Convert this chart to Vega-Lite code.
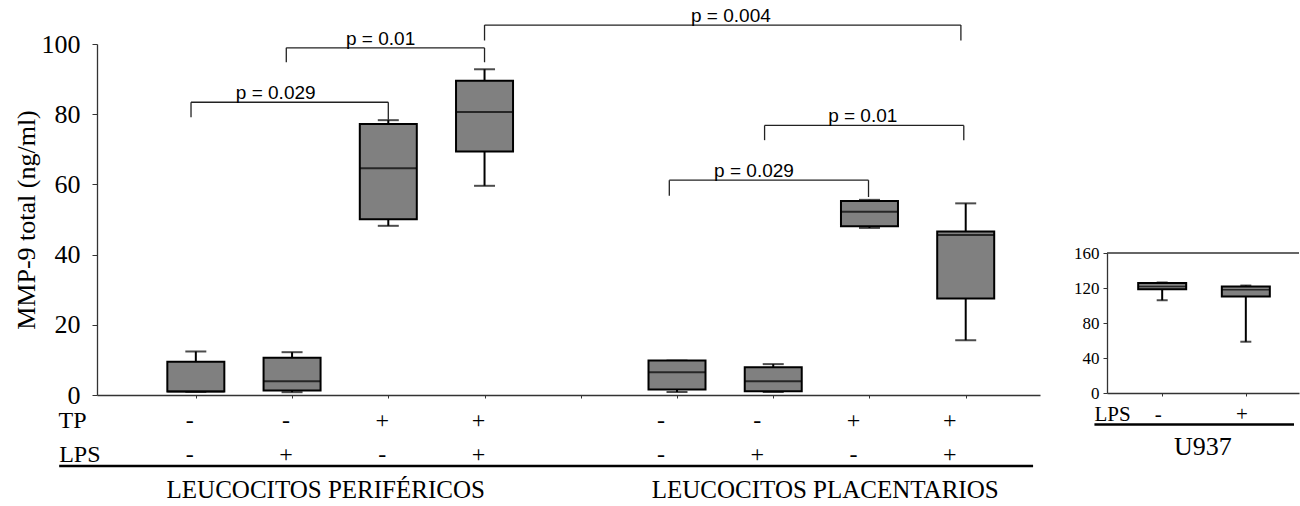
{
  "$schema": "https://vega.github.io/schema/vega-lite/v6.json",
  "background": "white",
  "padding": {"left": 13, "top": 7, "right": 0, "bottom": 0},
  "bounds": "flush",
  "spacing": 67,
  "config": {"view": {"stroke": null}, "axis": {"grid": false}},
  "datasets": {
    "boxes": [
      {"cond": 1, "g": 1, "TP": "-", "LPS": "-", "min": 0.9, "q1": 1.0, "median": 1.0, "q3": 9.5, "max": 12.4},
      {"cond": 2, "g": 1, "TP": "-", "LPS": "+", "min": 0.8, "q1": 1.3, "median": 3.9, "q3": 10.6, "max": 12.2},
      {"cond": 3, "g": 1, "TP": "+", "LPS": "-", "min": 48.2, "q1": 50.1, "median": 64.6, "q3": 77.2, "max": 78.3},
      {"cond": 4, "g": 1, "TP": "+", "LPS": "+", "min": 59.6, "q1": 69.4, "median": 80.6, "q3": 89.5, "max": 92.8},
      {"cond": 6, "g": 2, "TP": "-", "LPS": "-", "min": 0.85, "q1": 1.6, "median": 6.5, "q3": 9.8, "max": 9.8},
      {"cond": 7, "g": 2, "TP": "-", "LPS": "+", "min": 0.85, "q1": 1.1, "median": 3.9, "q3": 7.9, "max": 8.8},
      {"cond": 8, "g": 2, "TP": "+", "LPS": "-", "min": 47.6, "q1": 48.1, "median": 52.2, "q3": 55.3, "max": 55.6},
      {"cond": 9, "g": 2, "TP": "+", "LPS": "+", "min": 15.6, "q1": 27.5, "median": 45.6, "q3": 46.6, "max": 54.6}
    ],
    "brackets": [
      {"x1": 0.95, "x2": 3.0, "ytop": 83.4, "yl": 79.1, "yr": 78.4, "label": "p = 0.029", "tx": 1.83},
      {"x1": 1.94, "x2": 4.0, "ytop": 98.9, "yl": 94.8, "yr": 94.8, "label": "p = 0.01", "tx": 2.92},
      {"x1": 4.0, "x2": 8.95, "ytop": 105.4, "yl": 101.0, "yr": 101.0, "label": "p = 0.004", "tx": 6.56},
      {"x1": 5.92, "x2": 7.99, "ytop": 61.2, "yl": 56.8, "yr": 56.4, "label": "p = 0.029", "tx": 6.8},
      {"x1": 6.91, "x2": 8.98, "ytop": 76.8, "yl": 72.6, "yr": 72.6, "label": "p = 0.01", "tx": 7.93}
    ],
    "u937": [
      {"cond": 1, "LPS": "-", "min": 106.0, "q1": 118.7, "median": 121.7, "q3": 125.6, "max": 126.3},
      {"cond": 2, "LPS": "+", "min": 58.6, "q1": 110.2, "median": 117.9, "q3": 121.7, "max": 122.8}
    ]
  },
  "hconcat": [
    {
      "width": 943,
      "height": 351,
      "data": {"name": "boxes"},
      "layer": [
        {
          "mark": {"type": "rule", "color": "black", "strokeWidth": 2},
          "encoding": {
            "x": {"field": "cond", "type": "quantitative",
                  "scale": {"domain": [0.025, 9.72], "nice": false, "zero": false},
                  "axis": {"values": [1, 2, 3, 4, 5, 6, 7, 8, 9], "labels": false, "title": null, "tickSize": 3, "domainColor": "#333333", "tickColor": "#333333", "domainWidth": 1.3}},
            "y": {"field": "min", "type": "quantitative",
                  "scale": {"domain": [0, 100], "nice": false},
                  "axis": {"values": [0, 20, 40, 60, 80, 100], "title": "MMP-9 total (ng/ml)", "tickSize": 5, "labelPadding": 12,
                           "labelFont": "Liberation Serif", "labelFontSize": 26, "labelColor": "black",
                           "titleFont": "Liberation Serif", "titleFontSize": 26, "titleFontWeight": "normal", "titleColor": "black", "titlePadding": 2,
                           "domainColor": "#333333", "tickColor": "#333333", "domainWidth": 1.3}},
            "y2": {"field": "max"}
          }
        },
        {
          "mark": {"type": "tick", "orient": "horizontal", "size": 21, "thickness": 2, "color": "black"},
          "encoding": {"x": {"field": "cond", "type": "quantitative"}, "y": {"field": "min", "type": "quantitative"}}
        },
        {
          "mark": {"type": "tick", "orient": "horizontal", "size": 21, "thickness": 2, "color": "black"},
          "encoding": {"x": {"field": "cond", "type": "quantitative"}, "y": {"field": "max", "type": "quantitative"}}
        },
        {
          "mark": {"type": "bar", "size": 57, "fill": "#808080", "stroke": "black", "strokeWidth": 2},
          "encoding": {"x": {"field": "cond", "type": "quantitative"}, "y": {"field": "q1", "type": "quantitative"}, "y2": {"field": "q3"}}
        },
        {
          "mark": {"type": "tick", "orient": "horizontal", "size": 57, "thickness": 2, "color": "black"},
          "encoding": {"x": {"field": "cond", "type": "quantitative"}, "y": {"field": "median", "type": "quantitative"}}
        },
        {
          "data": {"name": "brackets"},
          "mark": {"type": "rule", "color": "#222222", "strokeWidth": 1.3},
          "encoding": {"x": {"field": "x1", "type": "quantitative"}, "x2": {"field": "x2"}, "y": {"field": "ytop", "type": "quantitative"}}
        },
        {
          "data": {"name": "brackets"},
          "mark": {"type": "rule", "color": "#222222", "strokeWidth": 1.3},
          "encoding": {"x": {"field": "x1", "type": "quantitative"}, "y": {"field": "yl", "type": "quantitative"}, "y2": {"field": "ytop"}}
        },
        {
          "data": {"name": "brackets"},
          "mark": {"type": "rule", "color": "#222222", "strokeWidth": 1.3},
          "encoding": {"x": {"field": "x2", "type": "quantitative"}, "y": {"field": "yr", "type": "quantitative"}, "y2": {"field": "ytop"}}
        },
        {
          "data": {"name": "brackets"},
          "mark": {"type": "text", "font": "Liberation Sans", "fontSize": 19, "color": "black", "align": "center", "baseline": "alphabetic", "dy": -3},
          "encoding": {"x": {"field": "tx", "type": "quantitative"}, "y": {"field": "ytop", "type": "quantitative"}, "text": {"field": "label"}}
        },
        {
          "data": {"values": [{"t": "TP"}]},
          "mark": {"type": "text", "font": "Liberation Serif", "fontSize": 24, "color": "black", "align": "left", "baseline": "alphabetic"},
          "encoding": {"x": {"datum": -0.427}, "y": {"datum": -9.4}, "text": {"field": "t"}}
        },
        {
          "data": {"values": [{"t": "LPS"}]},
          "mark": {"type": "text", "font": "Liberation Serif", "fontSize": 24, "color": "black", "align": "left", "baseline": "alphabetic"},
          "encoding": {"x": {"datum": -0.42}, "y": {"datum": -19.1}, "text": {"field": "t"}}
        },
        {
          "transform": [{"filter": "datum.g == 1"}],
          "mark": {"type": "text", "font": "Liberation Serif", "fontSize": 24, "color": "black", "align": "center", "baseline": "alphabetic", "dx": -6},
          "encoding": {"x": {"field": "cond", "type": "quantitative"}, "y": {"datum": -9.4}, "text": {"field": "TP"}}
        },
        {
          "transform": [{"filter": "datum.g == 2"}],
          "mark": {"type": "text", "font": "Liberation Serif", "fontSize": 24, "color": "black", "align": "center", "baseline": "alphabetic", "dx": -16},
          "encoding": {"x": {"field": "cond", "type": "quantitative"}, "y": {"datum": -9.4}, "text": {"field": "TP"}}
        },
        {
          "transform": [{"filter": "datum.g == 1"}],
          "mark": {"type": "text", "font": "Liberation Serif", "fontSize": 24, "color": "black", "align": "center", "baseline": "alphabetic", "dx": -6},
          "encoding": {"x": {"field": "cond", "type": "quantitative"}, "y": {"datum": -19.1}, "text": {"field": "LPS"}}
        },
        {
          "transform": [{"filter": "datum.g == 2"}],
          "mark": {"type": "text", "font": "Liberation Serif", "fontSize": 24, "color": "black", "align": "center", "baseline": "alphabetic", "dx": -16},
          "encoding": {"x": {"field": "cond", "type": "quantitative"}, "y": {"datum": -19.1}, "text": {"field": "LPS"}}
        },
        {
          "data": {"values": [{}]},
          "mark": {"type": "rule", "color": "black", "strokeWidth": 2.5},
          "encoding": {"x": {"datum": -0.42}, "x2": {"datum": 9.7}, "y": {"datum": -20.2}}
        },
        {
          "data": {"values": [{"t": "LEUCOCITOS PERIFÉRICOS", "cx": 2.35}, {"t": "LEUCOCITOS PLACENTARIOS", "cx": 7.54}]},
          "mark": {"type": "text", "font": "Liberation Serif", "fontSize": 25, "color": "black", "align": "center", "baseline": "alphabetic"},
          "encoding": {"x": {"field": "cx", "type": "quantitative"}, "y": {"datum": -29.3}, "text": {"field": "t"}}
        }
      ]
    },
    {
      "width": 192,
      "height": 349,
      "data": {"name": "u937"},
      "layer": [
        {
          "mark": {"type": "rule", "color": "black", "strokeWidth": 2},
          "encoding": {
            "x": {"field": "cond", "type": "quantitative",
                  "scale": {"domain": [0.4, 2.576], "nice": false, "zero": false},
                  "axis": {"values": [1, 2], "labels": false, "title": null, "tickSize": 3, "domainColor": "#333333", "tickColor": "#333333", "domainWidth": 1.3}},
            "y": {"field": "min", "type": "quantitative",
                  "scale": {"domain": [0, 160], "range": [349, 209], "nice": false},
                  "axis": {"values": [0, 40, 80, 120, 160], "title": null, "tickSize": 4, "labelPadding": 4,
                           "labelFont": "Liberation Serif", "labelFontSize": 17, "labelColor": "black",
                           "domainColor": "#333333", "tickColor": "#333333", "domainWidth": 1.3}},
            "y2": {"field": "max"}
          }
        },
        {
          "mark": {"type": "tick", "orient": "horizontal", "size": 11, "thickness": 2, "color": "black"},
          "encoding": {"x": {"field": "cond", "type": "quantitative"}, "y": {"field": "min", "type": "quantitative"}}
        },
        {
          "mark": {"type": "tick", "orient": "horizontal", "size": 11, "thickness": 2, "color": "black"},
          "encoding": {"x": {"field": "cond", "type": "quantitative"}, "y": {"field": "max", "type": "quantitative"}}
        },
        {
          "mark": {"type": "bar", "size": 48, "fill": "#808080", "stroke": "black", "strokeWidth": 2},
          "encoding": {"x": {"field": "cond", "type": "quantitative"}, "y": {"field": "q1", "type": "quantitative"}, "y2": {"field": "q3"}}
        },
        {
          "mark": {"type": "tick", "orient": "horizontal", "size": 48, "thickness": 1.5, "color": "black"},
          "encoding": {"x": {"field": "cond", "type": "quantitative"}, "y": {"field": "median", "type": "quantitative"}}
        },
        {
          "data": {"values": [{}]},
          "mark": {"type": "rule", "color": "#333333", "strokeWidth": 1.3},
          "encoding": {"y": {"datum": 160}}
        },
        {
          "data": {"values": [{"t": "LPS"}]},
          "mark": {"type": "text", "font": "Liberation Serif", "fontSize": 21, "color": "black", "align": "left", "baseline": "alphabetic"},
          "encoding": {"x": {"datum": 0.19}, "y": {"datum": -32}, "text": {"field": "t"}}
        },
        {
          "mark": {"type": "text", "font": "Liberation Serif", "fontSize": 21, "color": "black", "align": "center", "baseline": "alphabetic", "dx": -4},
          "encoding": {"x": {"field": "cond", "type": "quantitative"}, "y": {"datum": -32}, "text": {"field": "LPS"}}
        },
        {
          "data": {"values": [{}]},
          "mark": {"type": "rule", "color": "black", "strokeWidth": 2.5},
          "encoding": {"x": {"datum": 0.19}, "x2": {"datum": 2.576}, "y": {"datum": -36}}
        },
        {
          "data": {"values": [{"t": "U937"}]},
          "mark": {"type": "text", "font": "Liberation Serif", "fontSize": 26, "color": "black", "align": "center", "baseline": "alphabetic"},
          "encoding": {"x": {"datum": 1.487}, "y": {"datum": -71}, "text": {"field": "t"}}
        }
      ]
    }
  ]
}
